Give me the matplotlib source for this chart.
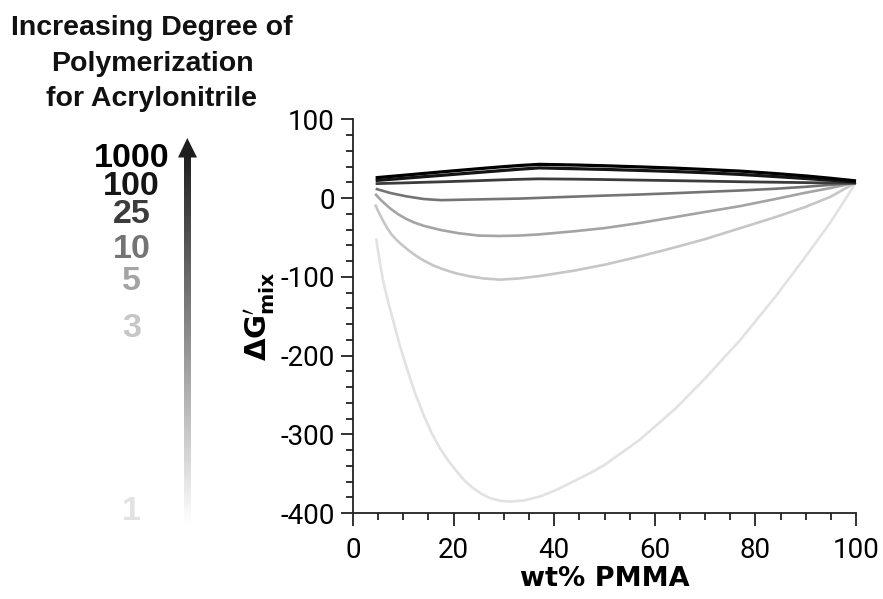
"""Delta G_mix vs wt% PMMA for several acrylonitrile chain lengths."""
import numpy as np
import matplotlib
matplotlib.use("Agg")
import matplotlib.pyplot as plt
from matplotlib.ticker import MultipleLocator
from matplotlib.patches import Polygon

# === Data ===
DP_LABELS = ["1000", "100", "25", "10", "5", "3", "1"]

# shared x for the shallow curves
WT_PMMA = [4.5, 7.5, 10.5, 14, 17.5, 21, 25, 29, 33, 37,
           44, 50, 57, 64, 70, 77, 84, 90, 95, 100]
DG_1000 = [26, 27.7, 29.4, 31.4, 33.4, 35.3, 37.5, 39.6, 41.5, 43,
           42.2, 41.2, 39.8, 38.2, 36.5, 34.4, 31.3, 28.3, 25.3, 22]
DG_100 = [22.5, 24, 25.5, 27.3, 29, 30.8, 32.8, 34.8, 36.8, 38.5,
          37.5, 36.6, 35.3, 33.9, 32.4, 30.2, 27.5, 25, 22.8, 20.5]
DG_25 = [18.5, 19, 19.5, 20.2, 20.8, 21.5, 22.3, 23.2, 24, 24.6,
         24.2, 23.7, 23, 22.3, 21.7, 20.9, 20.3, 19.8, 19.4, 19]
DG_10 = [12, 6.5, 2.5, -1, -2.5, -2, -1.5, -1, -0.5, 0.4,
         2, 3.3, 4.7, 6.4, 8, 9.8, 12, 14.5, 17, 19.5]

# the deeper curves were read more densely near their steep start
WT_5 = [4.4, 5.5, 6.5, 7.5, 9, 10.5, 12, 14, 17.5, 21, 25, 29, 33, 37,
        44, 50, 57, 64, 70, 77, 84, 90, 95, 100]
DG_5 = [5.5, -2, -8, -13.5, -20.5, -26, -30.5, -35, -40.5, -44.5, -47.5, -48, -47.5, -46,
        -42, -38, -31.5, -24, -17.5, -10, -1, 7, 13, 20]

WT_3 = [4.4, 5.2, 6, 6.8, 7.6, 8.5, 9.5, 11, 12.5, 14, 16, 18, 20.5, 23, 26, 29.2,
        33, 37, 44, 50.4, 57, 63.7, 70, 77, 84, 90, 95, 100]
DG_3 = [-8, -19, -29, -38, -45.5, -52, -58, -66, -73, -79, -85.5, -90.5, -95.5, -99, -102, -103.5,
        -102, -99, -92, -84, -74, -63, -52, -38, -24, -11, 2, 20]

WT_1 = [4.6, 5.3, 6, 7, 8, 9.3, 10.7, 12.3, 14, 15.6, 17.3, 19, 20.6, 22.2, 23.9,
        25.5, 27.2, 29.2, 31.2, 34, 37.2, 40.5, 43.8, 47.1, 50, 57, 64, 70, 77,
        84, 90, 95, 100]
DG_1 = [-51, -80, -105.6, -132, -156, -187, -216, -247, -275, -298, -318, -334, -347, -359, -368.5,
        -375.5, -381, -384.5, -385.5, -384, -379, -370.5, -360, -349.5, -339, -307, -268, -229, -180,
        -125, -74, -30, 20]

SERIES = [(WT_PMMA, DG_1000), (WT_PMMA, DG_100), (WT_PMMA, DG_25), (WT_PMMA, DG_10),
          (WT_5, DG_5), (WT_3, DG_3), (WT_1, DG_1)]
COLORS = ["#000000", "#151515", "#3c3c3c", "#747474", "#a4a4a4", "#c6c6c6", "#e2e2e2"]
WIDTHS = [2.3, 2.3, 2.0, 1.9, 1.9, 1.9, 1.9]

# baselines (pixels from top) of the chain-length labels on the left
LABEL_BASELINES = [167, 195, 223, 258, 290, 337, 520]
TITLE_LINES = ["Increasing Degree of", "Polymerization", "for Acrylonitrile"]
TITLE_BASELINES = [35, 71, 106]

W, H = 883, 599

plt.rcParams["font.family"] = ["Roboto", "DejaVu Sans"]
plt.rcParams["axes.unicode_minus"] = False

fig = plt.figure(figsize=(W / 100, H / 100), dpi=100)
ax = fig.add_axes([353 / W, 1 - 513 / H, 503 / W, 393.5 / H])

# lightest curves first so the dark ones sit on top
for (xs, ys), c, lw in reversed(list(zip(SERIES, COLORS, WIDTHS))):
    ax.plot(xs, ys, color=c, lw=lw, clip_on=False, solid_capstyle="butt",
            solid_joinstyle="round")

ax.set_xlim(0, 100)
ax.set_ylim(-400, 100)
ax.xaxis.set_major_locator(MultipleLocator(20))
ax.xaxis.set_minor_locator(MultipleLocator(5))
ax.yaxis.set_major_locator(MultipleLocator(100))
ax.yaxis.set_minor_locator(MultipleLocator(20))

for s in ["top", "right"]:
    ax.spines[s].set_visible(False)
for s in ["left", "bottom"]:
    ax.spines[s].set_linewidth(1.3)
    ax.spines[s].set_color("#222222")
ax.tick_params(which="major", direction="out", length=9, width=1.3,
               color="#222222", labelsize=20, pad=4)
ax.tick_params(which="minor", direction="out", length=5, width=1.3, color="#222222")
ax.tick_params(axis="x", which="major", pad=8)

ax.set_xlabel("wt% PMMA", fontsize=19.5, fontweight="bold", family="DejaVu Sans",
              labelpad=2)
ax.set_ylabel(r"$\mathbf{\Delta G}^{\prime}_{\mathbf{mix}}$", fontsize=21, labelpad=2)

# overlay in pixel coordinates for the left-hand legend
ov = fig.add_axes([0, 0, 1, 1])
ov.patch.set_visible(False)

grad = np.linspace(0.13, 1.0, 200).reshape(-1, 1)
ov.imshow(grad, extent=(184, 190.5, 525, 157), cmap="gray", vmin=0, vmax=1,
          aspect="auto", origin="upper", interpolation="bilinear")
ov.add_patch(Polygon([[178, 157.5], [197, 157.5], [187.3, 138]],
                     closed=True, color="#1e1e1e", lw=0))
ov.set_xlim(0, W)
ov.set_ylim(H, 0)
ov.axis("off")

for line, yb in zip(TITLE_LINES, TITLE_BASELINES):
    ov.text(152, yb, line, ha="center", va="baseline", fontsize=20.5,
            fontweight="bold", family="Liberation Sans", color="#111111")

for lab, yb, c in zip(DP_LABELS, LABEL_BASELINES, COLORS):
    ov.text(131.5, yb, lab, ha="center", va="baseline", fontsize=24.5,
            fontweight="bold", family="Liberation Sans", color=c)

fig.savefig("out.png", dpi=100)
